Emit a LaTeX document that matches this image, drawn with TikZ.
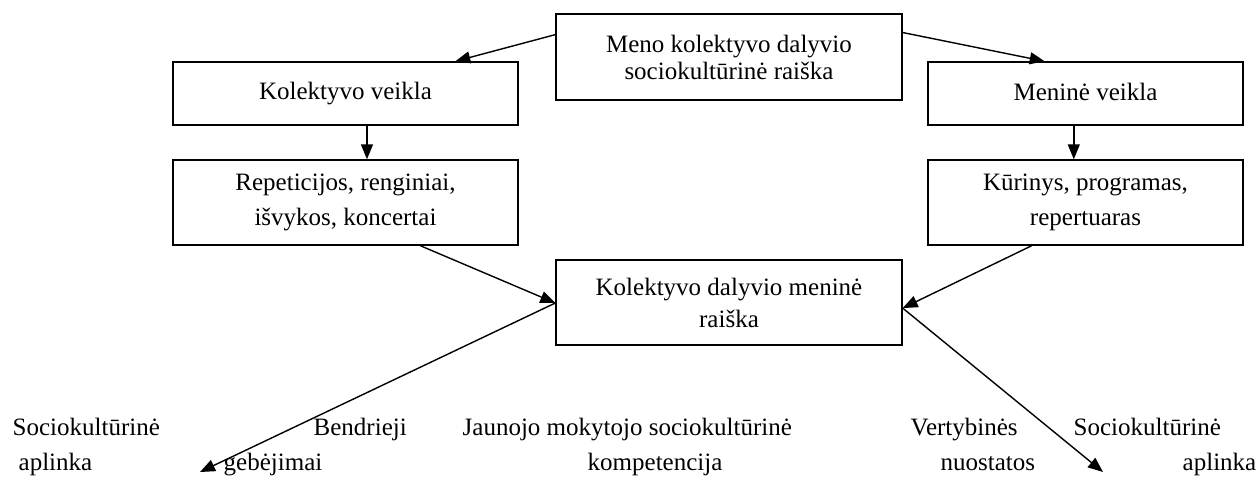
\documentclass[tikz,border=0pt]{standalone}
\usepackage{fontspec}
\setmainfont{Liberation Serif}
\usetikzlibrary{arrows.meta,calc}
\begin{document}
\begin{tikzpicture}[x=1pt,y=-1pt,line width=1.4pt,
  box/.style={draw,rectangle,inner sep=0pt,align=center},
  lbl/.style={anchor=base west,inner sep=0pt,font=\fontsize{25}{28}\selectfont},
  arr/.style={-{Triangle[length=15pt,width=12pt]}}]
\useasboundingbox (0,0) rectangle (1259,490);
% boxes
\node[box,minimum width=346pt,minimum height=86pt,font=\fontsize{25}{27}\selectfont] (top) at (729,57) {Meno kolektyvo dalyvio\\sociokultūrinė raiška};
\node[box,minimum width=345pt,minimum height=63pt,font=\fontsize{25}{28}\selectfont] (k1) at (345.5,93.5) {\raisebox{3pt}{Kolektyvo veikla}};
\node[box,minimum width=315pt,minimum height=63pt,font=\fontsize{25}{28}\selectfont] (m1) at (1085.5,93.5) {\raisebox{3pt}{Meninė veikla}};
\node[box,minimum width=345pt,minimum height=85pt,font=\fontsize{25}{35}\selectfont] (k2) at (345.5,202.5) {Repeticijos, renginiai,\\išvykos, koncertai};
\node[box,minimum width=315pt,minimum height=85pt,font=\fontsize{25}{35}\selectfont] (m2) at (1085.5,202.5) {Kūrinys, programas,\\repertuaras};
\node[box,minimum width=346pt,minimum height=85pt,font=\fontsize{25}{32}\selectfont] (c) at (729,302.5) {Kolektyvo dalyvio meninė\\raiška};
% free ends
\coordinate (dl) at (200,472);
\coordinate (dr) at (1103,472);
% connectors
\draw[arr] ($(top.north west)!0.244!(top.south west)$) -- ($(k1.north west)!0.817!(k1.north east)$);
\draw[arr] ($(top.north east)!0.22!(top.south east)$) -- ($(m1.north west)!0.371!(m1.north east)$);
\coordinate (k1s) at ($(k1.south west)!0.562!(k1.south east)$);
\draw[arr] (k1s) -- (k1s |- k2.north);
\coordinate (m1s) at ($(m1.south west)!0.463!(m1.south east)$);
\draw[arr] (m1s) -- (m1s |- m2.north);
\draw[arr] ($(k2.south west)!0.716!(k2.south east)$) -- ($(c.north west)!0.506!(c.south west)$);
\draw[arr] ($(m2.south west)!0.33!(m2.south east)$) -- ($(c.north east)!0.565!(c.south east)$);
\draw[arr] ($(c.north west)!0.506!(c.south west)$) -- (dl);
\draw[arr] ($(c.north east)!0.565!(c.south east)$) -- (dr);
% bottom labels
\node[lbl] (t1) at (12,435) {Sociokultūrinė};
\node[lbl] (t2) at (18,470) {aplinka};
\node[lbl] (t3) at (313,435) {Bendrieji};
\node[lbl] (t4) at (223,470) {gebėjimai};
\node[lbl] (t5) at (462,435) {Jaunojo mokytojo sociokultūrinė};
\node[lbl] (t6) at (587,470) {kompetencija};
\node[lbl] (t7) at (910,435) {Vertybinės};
\node[lbl] (t8) at (940,470) {nuostatos};
\node[lbl] (t9) at (1073,435) {Sociokultūrinė};
\node[lbl] (t10) at (1182,470) {aplinka};
\end{tikzpicture}
\end{document}
